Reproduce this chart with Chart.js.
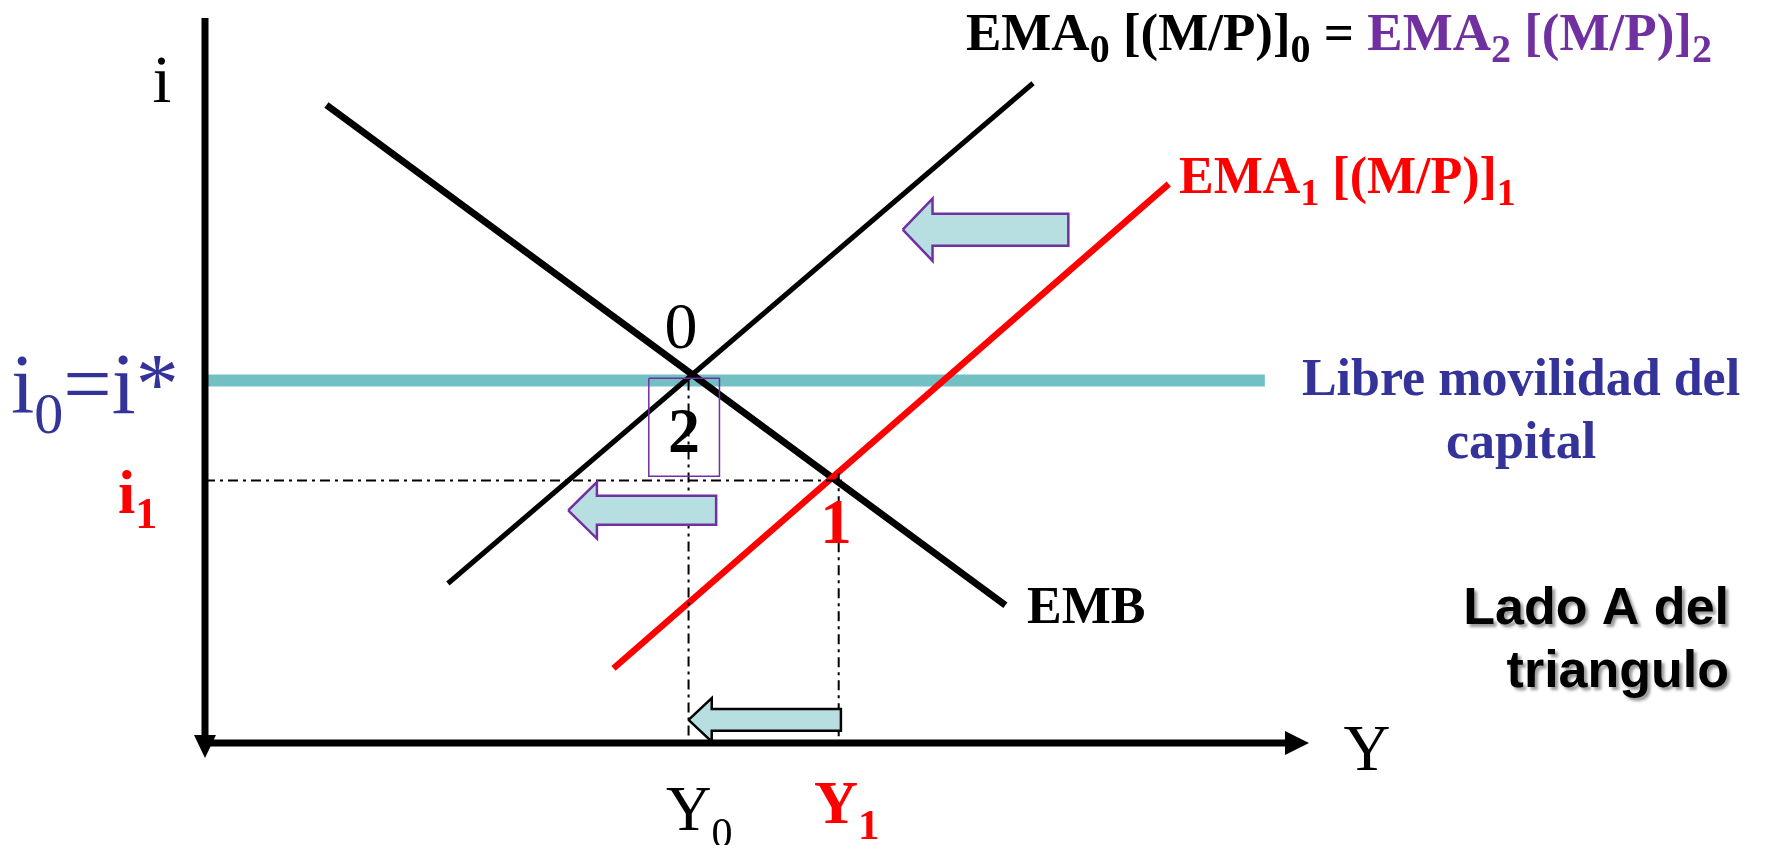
<!DOCTYPE html>
<html>
<head>
<meta charset="utf-8">
<script src="https://cdn.jsdelivr.net/npm/chart.js@4.4.1/dist/chart.umd.min.js"></script>
<style>
html,body{margin:0;padding:0;background:#fff;}
canvas{display:block;}
</style>
</head>
<body>
<canvas id="c" width="1766" height="845"></canvas>
<script>
// ---- data (Y = output, i = interest rate), arbitrary units 0..100 ----
const iStar = 50;          // i0 = i*
const i1 = 36.2;           // new interest rate level
const Y0 = 43.8;           // initial output
const Y1 = 57.4;           // output at point 1
const bpX = [0, 96];       const bpI = [iStar, iStar];
const embX = [11, 72.5];   const embI = [88, 19];
const ema0X = [22, 75];    const ema0I = [22, 91];
const ema1X = [37, 87.3];  const ema1I = [10.3, 77.1];
// arrows: tip x, head back x, tail x, centre i, head half-height, body half-height
const arrowTip   = [63.2, 32.9, 43.8];
const arrowHead  = [65.9, 35.5, 45.9];
const arrowTail  = [78.2, 46.3, 57.6];
const arrowMid   = [70.8, 32.1, 3.2];
const arrowHeadH = [4.3, 3.9, 3.0];
const arrowBodyH = [2.2, 2.0, 1.5];
const arrowEdge  = ['#7030A0', '#7030A0', '#000000'];
// box around point 2
const boxX = [40.2, 46.6]; const boxI = [50.3, 36.8];

const pts = (xs, ys) => xs.map((x, k) => ({x, y: ys[k]}));

function arrowPoly(k){
  const t=arrowTip[k], h=arrowHead[k], e=arrowTail[k], m=arrowMid[k], H=arrowHeadH[k], B=arrowBodyH[k];
  return [{x:t,y:m},{x:h,y:m+H},{x:h,y:m+B},{x:e,y:m+B},{x:e,y:m-B},{x:h,y:m-B},{x:h,y:m-H},{x:t,y:m}];
}

const datasets = [];
for (let k=0;k<3;k++){
  datasets.push({data:arrowPoly(k), borderColor:arrowEdge[k], borderWidth:2.5, backgroundColor:'#B7DEE0', fill:'shape', pointRadius:0, clip:false, borderJoinStyle:'miter'});
}
datasets.push({data:[{x:boxX[0],y:boxI[0]},{x:boxX[1],y:boxI[0]},{x:boxX[1],y:boxI[1]},{x:boxX[0],y:boxI[1]},{x:boxX[0],y:boxI[0]}], borderColor:'#7030A0', borderWidth:1.5, fill:false, pointRadius:0, clip:false});
const dash=[10,5,3,5];
datasets.push({data:[{x:0,y:i1},{x:Y1+0.3,y:i1}], borderColor:'#000', borderWidth:2, borderDash:dash, fill:false, pointRadius:0, clip:false});
datasets.push({data:[{x:Y0,y:iStar},{x:Y0,y:0}], borderColor:'#000', borderWidth:2, borderDash:dash, fill:false, pointRadius:0, clip:false});
datasets.push({data:[{x:Y1,y:i1+1},{x:Y1,y:0}], borderColor:'#000', borderWidth:2, borderDash:dash, fill:false, pointRadius:0, clip:false});
datasets.push({data:pts(ema1X, ema1I), borderColor:'#FF0000', borderWidth:6.5, fill:false, pointRadius:0, clip:false, borderCapStyle:'butt'});
datasets.push({data:pts(embX, embI), borderColor:'#000', borderWidth:7, fill:false, pointRadius:0, clip:false, borderCapStyle:'butt'});
datasets.push({data:pts(ema0X, ema0I), borderColor:'#000', borderWidth:5, fill:false, pointRadius:0, clip:false, borderCapStyle:'butt'});
datasets.push({data:pts(bpX, bpI), borderColor:'#72BFC4', borderWidth:12, fill:false, pointRadius:0, clip:false, borderCapStyle:'butt'});

const SERIF = '"Liberation Serif","Times New Roman",serif';
const SANS = '"Liberation Sans",Arial,sans-serif';

function rich(ctx, x, y, parts, align){
  let total=0;
  parts.forEach(p=>{ctx.font=p.f; total+=ctx.measureText(p.t).width;});
  let cx = align==='center' ? x-total/2 : (align==='right' ? x-total : x);
  parts.forEach(p=>{
    ctx.font=p.f; ctx.fillStyle=p.c;
    ctx.fillText(p.t, cx, y+(p.dy||0));
    cx+=ctx.measureText(p.t).width;
  });
}

const annot = {
  id:'annot',
  afterDraw(chart){
    const ctx=chart.ctx, xs=chart.scales.x, ys=chart.scales.y;
    const X=v=>xs.getPixelForValue(v), Yp=v=>ys.getPixelForValue(v);
    ctx.save();
    ctx.textAlign='left'; ctx.textBaseline='alphabetic';
    // axes
    const ox=X(0), oy=Yp(0);
    ctx.strokeStyle='#000'; ctx.fillStyle='#000'; ctx.lineWidth=7; ctx.lineCap='butt';
    ctx.beginPath(); ctx.moveTo(ox, Yp(100)); ctx.lineTo(ox, oy); ctx.stroke();
    ctx.beginPath(); ctx.moveTo(ox-3, oy); ctx.lineTo(X(100)-22, oy); ctx.stroke();
    ctx.beginPath(); ctx.moveTo(X(100)-24, oy-12); ctx.lineTo(X(100), oy); ctx.lineTo(X(100)-24, oy+12); ctx.closePath(); ctx.fill();
    ctx.beginPath(); ctx.moveTo(ox-11, oy-8); ctx.lineTo(ox+11, oy-8); ctx.lineTo(ox, oy+15); ctx.closePath(); ctx.fill();

    // axis labels
    ctx.fillStyle='#000'; ctx.font='68px '+SERIF; ctx.textAlign='center';
    ctx.fillText('i', 162, 102);
    ctx.font='65px '+SERIF; ctx.fillText('Y', 1367, 770);
    ctx.textAlign='left';

    // i0 = i*
    rich(ctx, 11, 413, [
      {t:'i', f:'84px '+SERIF, c:'#333399'},
      {t:'0', f:'58px '+SERIF, c:'#333399', dy:20},
      {t:'=i*', f:'86px '+SERIF, c:'#333399'}
    ]);
    // i1
    rich(ctx, 118, 513, [
      {t:'i', f:'bold 62px '+SERIF, c:'#FF0000'},
      {t:'1', f:'bold 44px '+SERIF, c:'#FF0000', dy:15}
    ]);
    // Y0, Y1
    rich(ctx, 666, 830, [
      {t:'Y', f:'63px '+SERIF, c:'#000'},
      {t:'0', f:'42px '+SERIF, c:'#000', dy:17}
    ]);
    rich(ctx, 814, 823, [
      {t:'Y', f:'bold 61px '+SERIF, c:'#FF0000'},
      {t:'1', f:'bold 43px '+SERIF, c:'#FF0000', dy:16}
    ]);
    // point labels
    ctx.textAlign='center';
    ctx.fillStyle='#000'; ctx.font='66px '+SERIF; ctx.fillText('0', 681, 348);
    ctx.font='bold 64px '+SERIF; ctx.fillText('2', 684, 452);
    ctx.fillStyle='#FF0000'; ctx.font='bold 63px '+SERIF; ctx.fillText('1', 836, 543);
    ctx.textAlign='left';

    // curve labels
    const B='bold 52px '+SERIF, S='bold 38px '+SERIF;
    const BT='bold 53px '+SERIF, ST='bold 40px '+SERIF;
    rich(ctx, 966, 50, [
      {t:'EMA', f:BT, c:'#000'}, {t:'0', f:ST, c:'#000', dy:12},
      {t:' [(M/P)]', f:BT, c:'#000'}, {t:'0', f:ST, c:'#000', dy:12},
      {t:' = ', f:BT, c:'#000'},
      {t:'EMA', f:BT, c:'#7030A0'}, {t:'2', f:ST, c:'#7030A0', dy:12},
      {t:' [(M/P)]', f:BT, c:'#7030A0'}, {t:'2', f:ST, c:'#7030A0', dy:12}
    ]);
    rich(ctx, 1179, 193, [
      {t:'EMA', f:B, c:'#FF0000'}, {t:'1', f:S, c:'#FF0000', dy:12},
      {t:' [(M/P)]', f:B, c:'#FF0000'}, {t:'1', f:S, c:'#FF0000', dy:12}
    ]);
    ctx.fillStyle='#000'; ctx.font=B; ctx.fillText('EMB', 1027, 623);

    ctx.textAlign='center'; ctx.fillStyle='#333399'; ctx.font=B;
    ctx.fillText('Libre movilidad del', 1521, 395);
    ctx.fillText('capital', 1521, 458);

    // Lado A del triangulo (with shadow)
    ctx.textAlign='right'; ctx.font='bold 52px '+SANS; ctx.fillStyle='#000';
    ctx.shadowColor='rgba(0,0,0,0.4)'; ctx.shadowOffsetX=3; ctx.shadowOffsetY=3; ctx.shadowBlur=3;
    ctx.fillText('Lado A del', 1729, 624);
    ctx.fillText('triangulo', 1729, 687);
    ctx.restore();
  }
};

new Chart(document.getElementById('c').getContext('2d'), {
  type:'line',
  data:{datasets},
  options:{
    responsive:false, animation:false, devicePixelRatio:1,
    layout:{padding:{left:205,right:457,top:18,bottom:102}},
    scales:{
      x:{type:'linear', min:0, max:100, display:false},
      y:{type:'linear', min:0, max:100, display:false}
    },
    elements:{line:{tension:0}, point:{radius:0}},
    plugins:{legend:{display:false}, tooltip:{enabled:false}}
  },
  plugins:[annot]
});
</script>
</body>
</html>
